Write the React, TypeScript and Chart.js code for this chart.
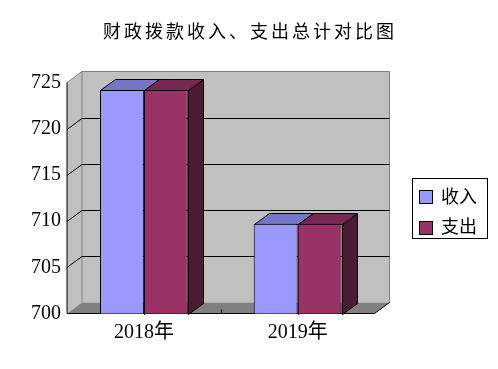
import React, { useEffect, useRef } from "react";
import { Chart, registerables } from "chart.js";

Chart.register(...registerables);

const titleText = "财政拨款收入、支出总计对比图";
const categories = ["2018年", "2019年"];
const seriesNames = ["收入", "支出"];
const incomeValues = [724.2, 709.7];
const expenseValues = [724.2, 709.7];
const yMin = 700;
const yMax = 725;
const yStep = 5;

const frontColors = ["#9999FF", "#993366"];
const topColors = ["#7676C6", "#772851"];
const sideColors = ["#4C4C80", "#4D1A33"];

const DX = 15;
const DY = 11;

const threeD = {
  id: "threeD",
  beforeDatasetsDraw(chart: any) {
    const ctx = chart.ctx;
    const a = chart.chartArea;
    const yS = chart.scales.y;
    const L = a.left, R = a.right, T = a.top, B = a.bottom;
    ctx.save();
    ctx.lineWidth = 1;
    // back wall
    ctx.fillStyle = "#C0C0C0";
    ctx.fillRect(L + DX, T - DY, R - L, B - T);
    // left wall
    ctx.beginPath();
    ctx.moveTo(L, T);
    ctx.lineTo(L + DX, T - DY);
    ctx.lineTo(L + DX, B - DY);
    ctx.lineTo(L, B);
    ctx.closePath();
    ctx.fill();
    // floor
    ctx.fillStyle = "#808080";
    ctx.beginPath();
    ctx.moveTo(L, B);
    ctx.lineTo(L + DX, B - DY);
    ctx.lineTo(R + DX, B - DY);
    ctx.lineTo(R, B);
    ctx.closePath();
    ctx.fill();
    // wall borders (gray)
    ctx.strokeStyle = "#808080";
    ctx.beginPath();
    ctx.moveTo(L, T);
    ctx.lineTo(L + DX, T - DY);
    ctx.lineTo(R + DX, T - DY);
    ctx.lineTo(R + DX, B - DY);
    ctx.moveTo(L + DX, T - DY);
    ctx.lineTo(L + DX, B - DY);
    ctx.stroke();
    // gridlines
    ctx.strokeStyle = "#000000";
    for (let v = yMin + yStep; v < yMax; v += yStep) {
      const py = Math.round(yS.getPixelForValue(v)) + 0.5;
      ctx.beginPath();
      ctx.moveTo(L, py);
      ctx.lineTo(L + DX, py - DY);
      ctx.lineTo(R + DX, py - DY);
      ctx.stroke();
    }
    // floor right edge & x axis
    ctx.beginPath();
    ctx.moveTo(L, B);
    ctx.lineTo(R, B);
    ctx.lineTo(R + DX, B - DY);
    ctx.stroke();
    // y axis
    ctx.beginPath();
    ctx.moveTo(L, T);
    ctx.lineTo(L, B);
    ctx.stroke();
    // category separator ticks
    const xS = chart.scales.x;
    for (let i = 0; i < categories.length - 1; i++) {
      const px = Math.round((xS.getPixelForValue(i) + xS.getPixelForValue(i + 1)) / 2) + 0.5;
      ctx.beginPath();
      ctx.moveTo(px, B);
      ctx.lineTo(px, B - 4);
      ctx.stroke();
    }
    // bar tops and sides
    const n = chart.data.datasets.length;
    for (let i = 0; i < categories.length; i++) {
      for (let d = 0; d < n; d++) {
        const meta = chart.getDatasetMeta(d);
        const el = meta.data[i];
        const x0 = Math.round(el.x - el.width / 2) + 0.5;
        const x1 = Math.round(el.x + el.width / 2) + 0.5;
        const yt = Math.round(el.y) + 0.5;
        const yb = Math.round(Math.min(el.base, B)) + 0.5;
        // side
        ctx.fillStyle = sideColors[d];
        ctx.beginPath();
        ctx.moveTo(x1, yt);
        ctx.lineTo(x1 + DX, yt - DY);
        ctx.lineTo(x1 + DX, yb - DY);
        ctx.lineTo(x1, yb);
        ctx.closePath();
        ctx.fill();
        ctx.stroke();
        // top
        ctx.fillStyle = topColors[d];
        ctx.beginPath();
        ctx.moveTo(x0, yt);
        ctx.lineTo(x0 + DX, yt - DY);
        ctx.lineTo(x1 + DX, yt - DY);
        ctx.lineTo(x1, yt);
        ctx.closePath();
        ctx.fill();
        ctx.stroke();
      }
    }
    ctx.restore();
  },
  afterDraw(chart: any) {
    const ctx = chart.ctx;
    ctx.save();
    // title
    ctx.fillStyle = "#000000";
    ctx.font = '18px "Noto Sans CJK SC"';
    (ctx as any).letterSpacing = "3px";
    ctx.textAlign = "center";
    ctx.textBaseline = "middle";
    ctx.fillText(titleText, 250, 31);
    (ctx as any).letterSpacing = "0px";
    // legend
    ctx.strokeStyle = "#000000";
    ctx.lineWidth = 1;
    ctx.strokeRect(412.5, 178.5, 75, 60);
    const rows = [196, 226.5];
    ctx.textAlign = "left";
    ctx.font = '18px "Noto Sans CJK SC"';
    chart.data.datasets.forEach((ds: any, i: number) => {
      const cy = rows[i];
      ctx.fillStyle = ds.backgroundColor;
      ctx.fillRect(419, Math.round(cy) - 6, 13, 13);
      ctx.strokeRect(419.5, Math.round(cy) - 5.5, 13, 13);
      ctx.fillStyle = "#000000";
      ctx.fillText(ds.label, 441, cy);
    });
    ctx.restore();
  },
};

export default function App() {
  const ref = useRef<HTMLCanvasElement | null>(null);
  useEffect(() => {
    if (!ref.current) return;
    const chart = new Chart(ref.current, {
      type: "bar",
      data: {
        labels: categories,
        datasets: [
          {
            label: seriesNames[0],
            data: incomeValues,
            backgroundColor: frontColors[0],
            borderColor: "#000000",
            borderWidth: 1,
            borderSkipped: false,
          },
          {
            label: seriesNames[1],
            data: expenseValues,
            backgroundColor: frontColors[1],
            borderColor: "#000000",
            borderWidth: 1,
            borderSkipped: false,
          },
        ],
      },
      options: {
        responsive: false,
        animation: false,
        layout: { padding: { top: 82.5, right: 123.5, left: 0, bottom: 0 } },
        datasets: { bar: { barPercentage: 1, categoryPercentage: 0.571 } },
        plugins: {
          legend: { display: false },
          title: { display: false },
          tooltip: { enabled: false },
        },
        scales: {
          x: {
            grid: { display: false, drawTicks: false },
            border: { display: false },
            ticks: {
              color: "#000000",
              padding: 7,
              font: { family: '"Liberation Serif", "Noto Sans CJK SC"', size: 20 },
            },
            afterFit(scale: any) {
              scale.height = 55.5;
            },
          },
          y: {
            min: yMin,
            max: yMax,
            grid: { display: false, drawTicks: false },
            border: { display: false },
            ticks: {
              stepSize: yStep,
              color: "#000000",
              padding: 6,
              font: { family: '"Liberation Serif"', size: 20 },
            },
            afterFit(scale: any) {
              scale.width = 67;
            },
          },
        },
      },
      plugins: [threeD],
    });
    return () => chart.destroy();
  }, []);
  return (
    <div style={{ position: "fixed", left: 0, top: 0, width: 498, height: 369, background: "#ffffff" }}>
      <canvas ref={ref} width={498} height={369} style={{ display: "block" }} />
    </div>
  );
}
